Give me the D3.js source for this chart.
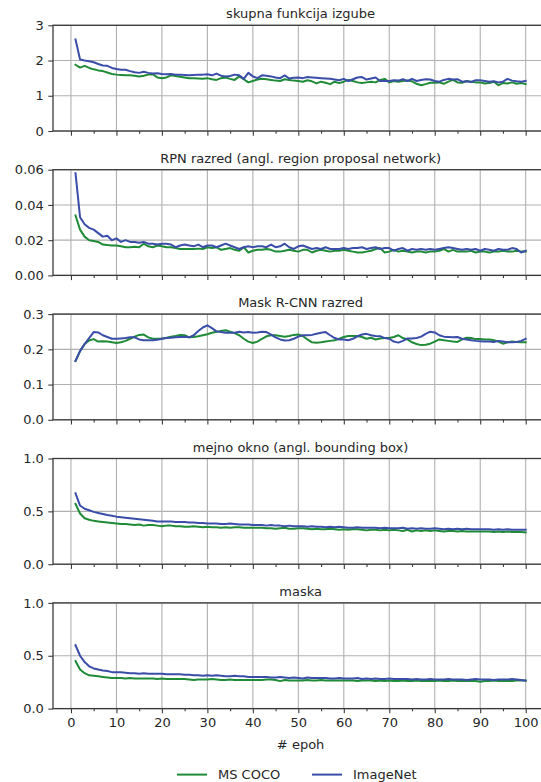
<!DOCTYPE html>
<html>
<head>
<meta charset="utf-8">
<script src="https://cdn.jsdelivr.net/npm/d3@7"></script>
<style>
  body { margin: 0; background: #fff; }
  svg { display: block; font-family: "DejaVu Sans", sans-serif; }
</style>
</head>
<body>
<svg id="chart" width="541" height="782"></svg>
<script>
// epochs 1..100
const epochs = d3.range(1, 101);

const seriesNames = ["MS COCO", "ImageNet"];
const seriesColors = ["#1f8b37", "#3a4da8"];

const titles = [
  "skupna funkcija izgube",
  "RPN razred (angl. region proposal network)",
  "Mask R-CNN razred",
  "mejno okno (angl. bounding box)",
  "maska"
];
const yDomains = [[0, 3], [0, 0.06], [0, 0.3], [0, 1], [0, 1]];
const yTicks = [[0, 1, 2, 3], [0, 0.02, 0.04, 0.06], [0, 0.1, 0.2, 0.3], [0, 0.5, 1], [0, 0.5, 1]];
const yFormats = ["d", ".2f", ".1f", ".1f", ".1f"];
const xTicks = d3.range(0, 101, 10);

// skupna funkcija izgube
const totalCoco = [
  1.88, 1.80, 1.85, 1.79, 1.75, 1.72, 1.70, 1.66, 1.62, 1.60,
  1.59, 1.58, 1.58, 1.57, 1.55, 1.57, 1.60, 1.61, 1.52, 1.50,
  1.52, 1.58, 1.56, 1.54, 1.52, 1.50, 1.50, 1.49, 1.48, 1.50,
  1.47, 1.45, 1.50, 1.52, 1.48, 1.45, 1.55, 1.47, 1.38, 1.42,
  1.46, 1.48, 1.47, 1.45, 1.43, 1.42, 1.47, 1.45, 1.43, 1.42,
  1.40, 1.44, 1.41, 1.35, 1.40, 1.37, 1.33, 1.40, 1.36, 1.40,
  1.45, 1.42, 1.38, 1.36, 1.38, 1.40, 1.38, 1.45, 1.48, 1.38,
  1.42, 1.40, 1.42, 1.43, 1.41, 1.34, 1.30, 1.33, 1.37, 1.37,
  1.38, 1.34, 1.40, 1.45, 1.38, 1.37, 1.42, 1.40, 1.38, 1.38,
  1.35, 1.36, 1.40, 1.30, 1.36, 1.35, 1.38, 1.34, 1.36, 1.33
];
const totalImagenet = [
  2.60, 2.03, 2.00, 1.98, 1.95, 1.90, 1.86, 1.85, 1.79, 1.76,
  1.74, 1.74, 1.70, 1.67, 1.65, 1.68, 1.65, 1.63, 1.64, 1.62,
  1.61, 1.62, 1.60, 1.60, 1.59, 1.58, 1.59, 1.60, 1.60, 1.61,
  1.58, 1.63, 1.57, 1.55, 1.56, 1.60, 1.58, 1.48, 1.65, 1.55,
  1.50, 1.58, 1.57, 1.55, 1.52, 1.50, 1.58, 1.49, 1.51, 1.52,
  1.50, 1.53, 1.52, 1.51, 1.50, 1.49, 1.48, 1.46, 1.44, 1.48,
  1.42, 1.47, 1.52, 1.53, 1.46, 1.49, 1.52, 1.42, 1.42, 1.42,
  1.44, 1.43, 1.47, 1.42, 1.48, 1.42, 1.45, 1.47, 1.46, 1.42,
  1.40, 1.45, 1.48, 1.46, 1.47, 1.40, 1.41, 1.39, 1.44, 1.44,
  1.42, 1.40, 1.41, 1.38, 1.40, 1.48, 1.43, 1.41, 1.40, 1.42
];

// RPN razred
const rpnCoco = [
  0.034, 0.026, 0.022, 0.020, 0.0195, 0.019, 0.0175, 0.0172, 0.017, 0.017,
  0.0165, 0.016, 0.016, 0.0162, 0.016, 0.018, 0.0165, 0.016, 0.017, 0.0165,
  0.016, 0.016, 0.0155, 0.015, 0.015, 0.015, 0.015, 0.0152, 0.015, 0.016,
  0.0155, 0.016, 0.0145, 0.015, 0.0155, 0.0145, 0.014, 0.016, 0.013, 0.014,
  0.0145, 0.0145, 0.015, 0.0145, 0.0135, 0.0135, 0.014, 0.0145, 0.014, 0.0135,
  0.0145, 0.0145, 0.013, 0.014, 0.0145, 0.014, 0.0135, 0.014, 0.014, 0.0145,
  0.014, 0.0135, 0.013, 0.013, 0.0135, 0.014, 0.015, 0.0155, 0.013, 0.0135,
  0.0145, 0.0135, 0.014, 0.0135, 0.013, 0.0135, 0.0135, 0.013, 0.0135, 0.0135,
  0.014, 0.015, 0.0135, 0.0145, 0.0135, 0.0135, 0.0135, 0.014, 0.013, 0.0135,
  0.0135, 0.013, 0.0135, 0.0135, 0.014, 0.0135, 0.0135, 0.014, 0.0135, 0.0135
];
const rpnImagenet = [
  0.058, 0.033, 0.029, 0.027, 0.026, 0.024, 0.022, 0.0225, 0.020, 0.021,
  0.019, 0.020, 0.019, 0.019, 0.0185, 0.019, 0.018, 0.018, 0.0175, 0.018,
  0.018, 0.0175, 0.016, 0.017, 0.0175, 0.017, 0.0165, 0.0175, 0.016, 0.017,
  0.017, 0.016, 0.017, 0.018, 0.017, 0.016, 0.015, 0.016, 0.0165, 0.016,
  0.0165, 0.0165, 0.016, 0.0175, 0.016, 0.0165, 0.018, 0.016, 0.015, 0.0165,
  0.017, 0.016, 0.015, 0.0155, 0.015, 0.016, 0.015, 0.015, 0.015, 0.0155,
  0.015, 0.0155, 0.0155, 0.016, 0.015, 0.0155, 0.016, 0.015, 0.0155, 0.0155,
  0.014, 0.015, 0.0155, 0.014, 0.015, 0.0145, 0.015, 0.0145, 0.015, 0.0145,
  0.015, 0.0155, 0.016, 0.0155, 0.015, 0.0145, 0.015, 0.0145, 0.015, 0.014,
  0.015, 0.0145, 0.014, 0.015, 0.0145, 0.0145, 0.0155, 0.015, 0.013, 0.014
];

// Mask R-CNN razred
const classCoco = [
  0.167, 0.195, 0.215, 0.225, 0.229, 0.222, 0.223, 0.222, 0.220, 0.218,
  0.220, 0.224, 0.230, 0.236, 0.241, 0.242, 0.234, 0.230, 0.230, 0.231,
  0.233, 0.236, 0.238, 0.241, 0.240, 0.234, 0.235, 0.237, 0.240, 0.243,
  0.247, 0.250, 0.252, 0.254, 0.250, 0.246, 0.240, 0.230, 0.222, 0.218,
  0.222, 0.230, 0.237, 0.240, 0.240, 0.238, 0.236, 0.238, 0.241, 0.242,
  0.238, 0.228, 0.220, 0.219, 0.220, 0.222, 0.224, 0.226, 0.230, 0.235,
  0.238, 0.238, 0.238, 0.235, 0.230, 0.233, 0.228, 0.231, 0.232, 0.232,
  0.235, 0.240, 0.232, 0.228, 0.220, 0.215, 0.212, 0.213, 0.216, 0.222,
  0.228, 0.226, 0.224, 0.222, 0.221, 0.228, 0.233, 0.232, 0.229, 0.229,
  0.228, 0.228, 0.226, 0.222, 0.216, 0.220, 0.222, 0.221, 0.220, 0.220
];
const classImagenet = [
  0.167, 0.195, 0.215, 0.232, 0.249, 0.248, 0.240, 0.235, 0.230, 0.230,
  0.231, 0.232, 0.234, 0.234, 0.228, 0.226, 0.226, 0.226, 0.227, 0.230,
  0.232, 0.233, 0.234, 0.235, 0.236, 0.234, 0.240, 0.252, 0.262, 0.268,
  0.260, 0.251, 0.249, 0.247, 0.247, 0.247, 0.250, 0.248, 0.249, 0.247,
  0.248, 0.250, 0.249, 0.242, 0.234, 0.228, 0.225, 0.226, 0.230, 0.236,
  0.240, 0.240, 0.241, 0.244, 0.247, 0.249, 0.240, 0.232, 0.228, 0.228,
  0.226, 0.230, 0.237, 0.242, 0.244, 0.240, 0.238, 0.237, 0.232, 0.230,
  0.222, 0.219, 0.224, 0.231, 0.231, 0.232, 0.236, 0.244, 0.250, 0.248,
  0.240, 0.236, 0.235, 0.234, 0.235, 0.230, 0.228, 0.226, 0.224, 0.223,
  0.222, 0.222, 0.221, 0.224, 0.222, 0.220, 0.220, 0.221, 0.224, 0.230
];

// mejno okno
const bboxCoco = [
  0.57, 0.48, 0.435, 0.42, 0.41, 0.405, 0.40, 0.395, 0.39, 0.385,
  0.38, 0.38, 0.375, 0.37, 0.375, 0.365, 0.37, 0.37, 0.365, 0.36,
  0.365, 0.365, 0.36, 0.36, 0.355, 0.355, 0.36, 0.355, 0.35, 0.355,
  0.35, 0.35, 0.345, 0.35, 0.345, 0.35, 0.35, 0.345, 0.345, 0.345,
  0.345, 0.345, 0.34, 0.34, 0.335, 0.34, 0.345, 0.335, 0.335, 0.34,
  0.34, 0.335, 0.33, 0.335, 0.33, 0.33, 0.335, 0.33, 0.325, 0.33,
  0.325, 0.33, 0.33, 0.325, 0.32, 0.325, 0.325, 0.32, 0.325, 0.32,
  0.325, 0.32, 0.315, 0.325, 0.31, 0.32, 0.315, 0.32, 0.315, 0.32,
  0.315, 0.31, 0.315, 0.315, 0.31, 0.315, 0.31, 0.31, 0.31, 0.31,
  0.31, 0.31, 0.305, 0.31, 0.305, 0.31, 0.305, 0.305, 0.305, 0.30
];
const bboxImagenet = [
  0.67, 0.555, 0.525, 0.51, 0.495, 0.485, 0.475, 0.465, 0.458, 0.45,
  0.445, 0.44, 0.435, 0.43, 0.425, 0.42, 0.415, 0.41, 0.405, 0.405,
  0.405, 0.405, 0.40, 0.40, 0.40, 0.395, 0.395, 0.39, 0.39, 0.385,
  0.385, 0.385, 0.38, 0.38, 0.385, 0.38, 0.375, 0.375, 0.375, 0.37,
  0.37, 0.37, 0.365, 0.37, 0.365, 0.365, 0.36, 0.365, 0.36, 0.36,
  0.36, 0.355, 0.36, 0.355, 0.355, 0.35, 0.355, 0.35, 0.355, 0.35,
  0.345, 0.345, 0.35, 0.345, 0.345, 0.345, 0.345, 0.34, 0.345, 0.34,
  0.34, 0.34, 0.345, 0.335, 0.34, 0.335, 0.34, 0.335, 0.335, 0.34,
  0.335, 0.33, 0.335, 0.33, 0.335, 0.33, 0.335, 0.33, 0.33, 0.33,
  0.33, 0.33, 0.325, 0.33, 0.325, 0.33, 0.325, 0.325, 0.325, 0.325
];

// maska
const maskCoco = [
  0.45, 0.37, 0.335, 0.315, 0.31, 0.305, 0.30, 0.295, 0.29, 0.29,
  0.29, 0.285, 0.29, 0.285, 0.285, 0.285, 0.285, 0.285, 0.28, 0.285,
  0.28, 0.28, 0.28, 0.28, 0.28, 0.275, 0.27, 0.275, 0.275, 0.275,
  0.28, 0.275, 0.27, 0.27, 0.275, 0.27, 0.27, 0.27, 0.27, 0.27,
  0.27, 0.27, 0.275, 0.275, 0.27, 0.26, 0.27, 0.265, 0.265, 0.265,
  0.265, 0.27, 0.265, 0.265, 0.27, 0.265, 0.265, 0.265, 0.265, 0.265,
  0.265, 0.265, 0.26, 0.265, 0.265, 0.265, 0.26, 0.265, 0.26, 0.265,
  0.26, 0.26, 0.265, 0.26, 0.26, 0.265, 0.26, 0.26, 0.26, 0.26,
  0.265, 0.26, 0.26, 0.265, 0.26, 0.26, 0.26, 0.26, 0.26, 0.255,
  0.26, 0.26, 0.265, 0.26, 0.26, 0.26, 0.26, 0.265, 0.265, 0.265
];
const maskImagenet = [
  0.60, 0.50, 0.44, 0.40, 0.38, 0.37, 0.36, 0.355, 0.345, 0.345,
  0.345, 0.34, 0.335, 0.335, 0.33, 0.335, 0.33, 0.33, 0.33, 0.33,
  0.325, 0.325, 0.325, 0.325, 0.32, 0.32, 0.315, 0.315, 0.31, 0.315,
  0.31, 0.315, 0.31, 0.305, 0.305, 0.31, 0.305, 0.305, 0.30, 0.30,
  0.30, 0.30, 0.30, 0.295, 0.295, 0.30, 0.295, 0.29, 0.295, 0.29,
  0.285, 0.295, 0.29, 0.29, 0.29, 0.29, 0.285, 0.285, 0.29, 0.285,
  0.285, 0.285, 0.29, 0.28, 0.285, 0.28, 0.285, 0.28, 0.28, 0.285,
  0.28, 0.28, 0.28, 0.28, 0.275, 0.28, 0.275, 0.275, 0.28, 0.275,
  0.275, 0.275, 0.28, 0.275, 0.275, 0.275, 0.27, 0.275, 0.28, 0.275,
  0.275, 0.275, 0.27, 0.275, 0.275, 0.275, 0.28, 0.275, 0.27, 0.265
];

const panelData = [
  [totalCoco, totalImagenet],
  [rpnCoco, rpnImagenet],
  [classCoco, classImagenet],
  [bboxCoco, bboxImagenet],
  [maskCoco, maskImagenet]
];

const svg = d3.select("#chart");
const textColor = "#262626";
const spineColor = "#3a3a3a";
const gridColor = "#b0b0b0";

const left = 53, right = 548.2;
const firstTop = 25.3, panelH = 105.7, panelStep = 144.4;

const x = d3.scaleLinear().domain([-3.95, 104.95]).range([left, right]);

panelData.forEach((series, i) => {
  const top = firstTop + i * panelStep;
  const bottom = top + panelH;
  const y = d3.scaleLinear().domain(yDomains[i]).range([bottom, top]);
  const g = svg.append("g");

  // grid
  g.selectAll(".vgrid").data(xTicks).enter().append("line")
    .attr("x1", d => x(d)).attr("x2", d => x(d))
    .attr("y1", top).attr("y2", bottom)
    .attr("stroke", gridColor).attr("stroke-width", 1.1);
  g.selectAll(".hgrid").data(yTicks[i]).enter().append("line")
    .attr("x1", left).attr("x2", right)
    .attr("y1", d => y(d)).attr("y2", d => y(d))
    .attr("stroke", gridColor).attr("stroke-width", 1.1);

  // lines
  const line = d3.line().x((d, j) => x(epochs[j])).y(d => y(d));
  series.forEach((vals, s) => {
    g.append("path").datum(vals)
      .attr("d", line)
      .attr("fill", "none")
      .attr("stroke", seriesColors[s])
      .attr("stroke-width", 2)
      .attr("stroke-linejoin", "round")
      .attr("stroke-linecap", "square");
  });

  // axes
  const yAxis = d3.axisLeft(y).tickValues(yTicks[i]).tickFormat(d3.format(yFormats[i]))
    .tickSize(4.7).tickPadding(4.5);
  const ya = g.append("g").attr("transform", `translate(${left},0)`).call(yAxis);

  const xAxis = d3.axisBottom(x).tickValues(xTicks).tickSize(4.7).tickPadding(4.5)
    .tickFormat(i === panelData.length - 1 ? d3.format("d") : "");
  const xa = g.append("g").attr("transform", `translate(0,${bottom})`).call(xAxis);
  const xMinor = d3.axisBottom(x).tickValues(d3.range(5, 100, 10)).tickSize(2.7).tickFormat("");
  const xm = g.append("g").attr("transform", `translate(0,${bottom})`).call(xMinor);

  [ya, xa, xm].forEach(a => {
    a.select(".domain").remove();
    a.selectAll(".tick line").attr("stroke", spineColor).attr("stroke-width", 1.1);
    a.selectAll(".tick text").attr("fill", textColor)
      .style("font-size", "13px").style("font-family", "DejaVu Sans");
  });

  // frame
  g.append("rect")
    .attr("x", left).attr("y", top)
    .attr("width", right - left).attr("height", panelH)
    .attr("fill", "none").attr("stroke", spineColor).attr("stroke-width", 1.3);

  // title
  g.append("text")
    .attr("x", (left + right) / 2).attr("y", top - 7)
    .attr("text-anchor", "middle")
    .attr("fill", textColor)
    .style("font-size", "13px")
    .text(titles[i]);
});

// x label
const lastBottom = firstTop + 4 * panelStep + panelH;
svg.append("text")
  .attr("x", (left + right) / 2).attr("y", lastBottom + 40)
  .attr("text-anchor", "middle")
  .attr("fill", textColor)
  .style("font-size", "13px")
  .text("# epoh");

// legend
const legendX = [177, 312];
const legend = svg.append("g").attr("transform", `translate(0,${lastBottom + 66})`);
seriesNames.forEach((name, s) => {
  legend.append("line")
    .attr("x1", legendX[s]).attr("x2", legendX[s] + 30)
    .attr("y1", 0).attr("y2", 0)
    .attr("stroke", seriesColors[s]).attr("stroke-width", 2);
  legend.append("text")
    .attr("x", legendX[s] + 41).attr("y", 4.7)
    .attr("fill", textColor)
    .style("font-size", "13px")
    .text(name);
});
</script>
</body>
</html>
